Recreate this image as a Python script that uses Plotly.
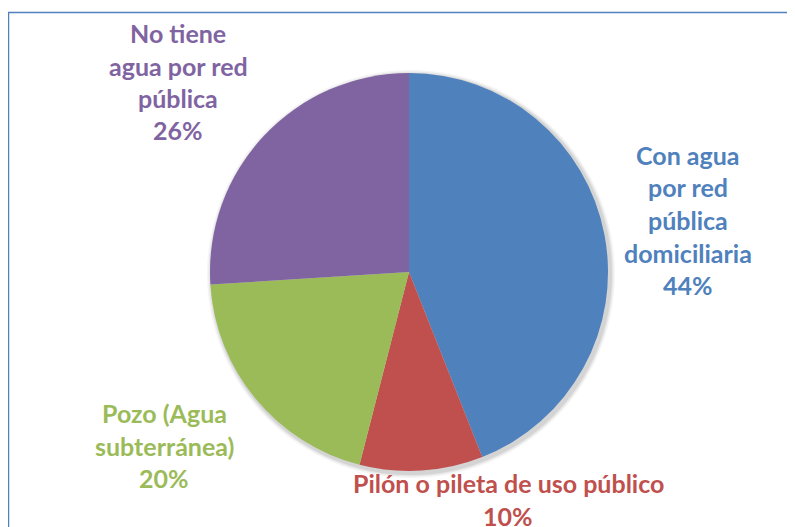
import plotly.graph_objects as go

# Data
categories = ["Con agua por red pública domiciliaria", "Pilón o pileta de uso público",
              "Pozo (Agua subterránea)", "No tiene agua por red pública"]
values = [44, 10, 20, 26]
label_lines = [
    ["Con agua", "por red", "pública", "domiciliaria"],
    ["Pilón o pileta de uso público"],
    ["Pozo (Agua", "subterránea)"],
    ["No tiene", "agua por red", "pública"],
]
colors = ["#4F81BD", "#C0504D", "#9BBB59", "#8064A2"]

W, H = 795, 527
OFF = 8  # page body margin offset
cx, cy, r = 409 - OFF, 272 - OFF, 199

fig = go.Figure()
fig.add_trace(go.Pie(
    labels=categories, values=values, sort=False, direction="clockwise",
    rotation=0, marker=dict(colors=colors, line=dict(width=0)),
    textinfo="none", hoverinfo="label+percent", showlegend=False,
    domain=dict(x=[(cx - r) / W, (cx + r) / W], y=[(H - cy - r) / H, (H - cy + r) / H]),
))

# label anchor: (center x px, first line center y px) in reference pixels
label_pos = [(688, 155), (508, 483), (164, 413), (178, 33)]
line_h = 32.5
total = sum(values)
for lines, col, (lx, ly), v in zip(label_lines, colors, label_pos, values):
    all_lines = lines + [f"{round(100 * v / total)}%"]
    for i, t in enumerate(all_lines):
        x_px = lx - OFF
        y_px = ly + i * line_h - OFF
        fig.add_annotation(x=x_px / W, y=(H - y_px) / H, xref="paper", yref="paper",
                           text=t, showarrow=False, xanchor="center", yanchor="middle",
                           font=dict(family="Lato", size=25, color=col, weight="bold"))

# soft shadow
for k, (off, op) in enumerate([(5, 0.04), (3.5, 0.06), (2, 0.08)]):
    fig.add_shape(type="circle", xref="paper", yref="paper", layer="below",
                  x0=(cx - r - off + 2) / W, x1=(cx + r + off + 2) / W,
                  y0=(H - cy - r - off - 2) / H, y1=(H - cy + r + off - 2) / H,
                  fillcolor=f"rgba(0,0,0,{op})", line=dict(width=0))

# frame
fig.add_shape(type="rect", xref="paper", yref="paper",
              x0=(8.5 - OFF) / W, x1=1.05, y0=-0.05, y1=(H - 12.5 + OFF) / H,
              line=dict(color="#4F81BD", width=1.5))

fig.update_layout(width=W, height=H, margin=dict(l=0, r=0, t=0, b=0),
                  paper_bgcolor="white", plot_bgcolor="white")
fig.write_html("out.html")
